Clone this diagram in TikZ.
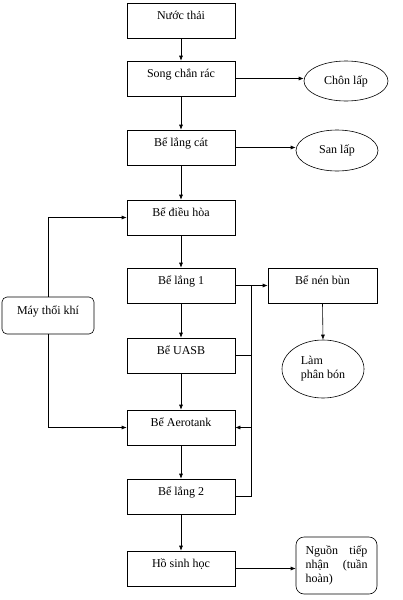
\documentclass[tikz,border=0pt]{standalone}
\usepackage{fontspec}
\setmainfont{Liberation Serif}
\usetikzlibrary{arrows.meta,shapes.geometric,calc}
\tikzset{x=1pt, y=-1pt,
    stage/.style={draw, rectangle, minimum width=108pt, inner sep=0pt,
        text height=16pt, text depth=19pt},
    sideout/.style={draw, ellipse, inner sep=0pt},
    rbox/.style={draw, rectangle, rounded corners=#1},
    flow/.style={-{Latex[length=5pt,width=4pt]}},
    }

\begin{document}
\begin{tikzpicture}[line width=0.6pt, font=\fontsize{12pt}{14pt}\selectfont]
\useasboundingbox (0,0) rectangle (402,600);
% main line
\node[stage] (nuoc) at (181,20.5) {Nước thải};
\node[stage] (song) at (181,78.5) {Song chắn rác};
\node[stage] (cat) at (181,147.5) {Bể lắng cát};
\node[stage] (dieuhoa) at (181,217.5) {Bể điều hòa};
\node[stage] (lang1) at (181,285.5) {Bể lắng 1};
\node[stage] (uasb) at (181,355.5) {Bể UASB};
\node[stage] (aero) at (181,427.5) {Bể Aerotank};
\node[stage] (lang2) at (181,496.5) {Bể lắng 2};
\node[stage] (ho) at (181,568.5) {Hồ sinh học};
% side nodes
\node[sideout, minimum width=84pt, minimum height=40pt] (chon) at (346,81) {Chôn lấp};
\node[sideout, minimum width=82pt, minimum height=41pt] (sanlap) at (337,150.5) {San lấp};
\node[stage, minimum width=109pt] (nen) at (322.5,285.5) {Bể nén bùn};
\node[sideout, minimum width=82pt, minimum height=58pt, align=left] (phanbon) at (323,369) {Làm\\phân bón};
\node[rbox=5pt, minimum width=92pt, inner sep=0pt, text height=17pt, text depth=20pt] (may) at (48,315.5) {Máy thổi khí};
\node[rbox=8pt, minimum width=81pt, minimum height=57pt, align=left] (nguon) at (336.5,565.5)
    {\makebox[62pt][s]{Nguồn tiếp}\\\makebox[62pt][s]{nhận (tuần}\\hoàn)};
% connectors
\foreach \a/\b in {nuoc/song, song/cat, cat/dieuhoa, dieuhoa/lang1, lang1/uasb, uasb/aero, aero/lang2, lang2/ho}
    \draw[flow] (\a.south) -- (\b.north);
\draw[flow] (song.east) -- (song.east -| chon.west);
\draw[flow] (cat.east) -- (cat.east -| sanlap.west);
\draw[flow] (may.north) |- (dieuhoa.west);
\draw[flow] (may.south) |- (aero.west);
\coordinate (bus) at ($(lang1.east)!0.5!(nen.west)$);
\draw[flow] (lang1.east) -- (nen.west);
\draw (uasb.east) -- (uasb.east -| bus);
\draw (lang2.east) -| (bus);
\draw[flow] (aero.east -| bus) -- (aero.east);
\draw[flow] (nen.south) -- (phanbon.north);
\draw[flow] (ho.east) -- (ho.east -| nguon.west);
\end{tikzpicture}
\end{document}
